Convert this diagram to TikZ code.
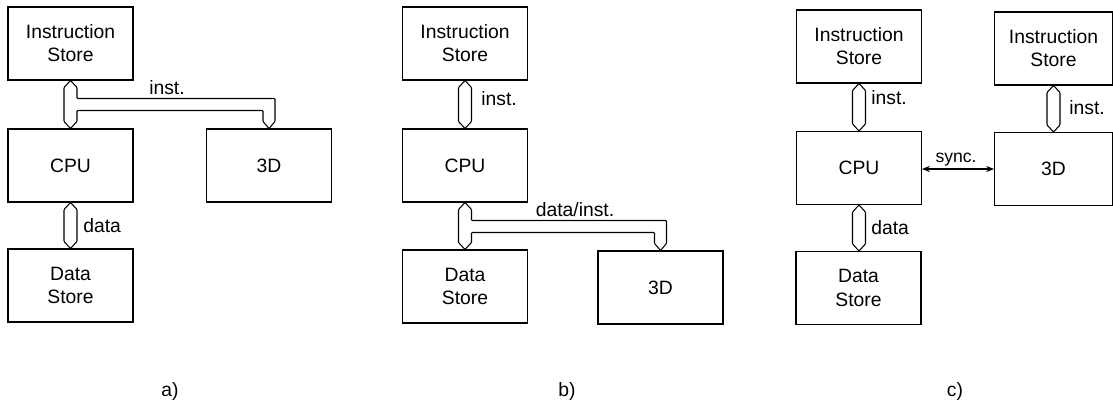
\documentclass[tikz,border=0pt]{standalone}
\usepackage{fontspec}
\setmainfont{Liberation Sans}
\usetikzlibrary{arrows.meta, calc}

\tikzset{
  unit/.style={draw, line width=0.6pt, minimum width=2.5cm, minimum height=1.46cm,
               align=center, font=\fontsize{11}{13.2}\selectfont},
  bus/.style={draw, fill=white, line width=0.6pt, rounded corners=0.5pt},
  lbl/.style={inner sep=0pt, font=\fontsize{11}{13.2}\selectfont},
  syncline/.style={line width=0.6pt, {Stealth[length=4.5pt,width=3.5pt]}-{Stealth[length=4.5pt,width=3.5pt]}},
}

\newcommand{\vbus}[2]{%
  \draw[bus] let \p1=(#1), \p2=(#2) in
    (\x1,\y1) -- (\x1+1.3mm,\y1-1.4mm) -- (\x1+1.3mm,\y2+1.4mm) -- (\x1,\y2)
    -- (\x1-1.3mm,\y2+1.4mm) -- (\x1-1.3mm,\y1-1.4mm) -- cycle;}

\newcommand{\tbus}[3]{%
  \draw[bus] let \p1=(#1), \p2=(#2), \p3=(#3) in
    (\x1,\y1) -- (\x1+1.3mm,\y1-1.4mm) -- (\x1+1.3mm,\y1-3.6mm)
    -- (\x3+1.2mm,\y1-3.6mm) -- (\x3+1.2mm,\y3+1.4mm) -- (\x3,\y3)
    -- (\x3-1.2mm,\y3+1.4mm) -- (\x3-1.2mm,\y1-6mm) -- (\x1+1.3mm,\y1-6mm)
    -- (\x1+1.3mm,\y2+1.4mm) -- (\x1,\y2) -- (\x1-1.3mm,\y2+1.4mm)
    -- (\x1-1.3mm,\y1-1.4mm) -- cycle;}

\begin{document}
\begin{tikzpicture}[x=0.02cm, y=-0.02cm]
  \useasboundingbox (0,0) rectangle (1113,404);

  \node[unit] (isA)  at (70.5, 43.5)  {Instruction\\Store};
  \node[unit] (cpuA) at (70.5, 165.5) {CPU};
  \node[unit] (dsA)  at (70.5, 285.5) {Data\\Store};
  \node[unit] (tdA)  at (269, 165.5)  {3D};

  \node[unit] (isB)  at (465, 43.5)   {Instruction\\Store};
  \node[unit] (cpuB) at (465, 165.5)  {CPU};
  \node[unit] (dsB)  at (465, 286.5)  {Data\\Store};
  \node[unit] (tdB)  at (660.5, 287.5) {3D};

  \node[unit] (isC)  at (859, 46.5)   {Instruction\\Store};
  \node[unit] (cpuC) at (859, 168)    {CPU};
  \node[unit] (dsC)  at (858.5, 288)  {Data\\Store};
  \node[unit, minimum width=2.36cm] (isD) at (1053.5, 48.5) {Instruction\\Store};
  \node[unit, minimum width=2.36cm] (tdC) at (1053.5, 169)  {3D};

  \tbus{isA.south}{cpuA.north}{tdA.north}
  \vbus{cpuA.south}{dsA.north}
  \vbus{isB.south}{cpuB.north}
  \tbus{cpuB.south}{dsB.north}{tdB.north}
  \vbus{isC.south}{cpuC.north}
  \vbus{cpuC.south}{dsC.north}
  \vbus{isD.south}{tdC.north}
  \draw[syncline] (cpuC.east |- tdC.west) -- (tdC.west);

  \node[lbl] (instA) at (167, 88) {inst.};
  \node[lbl, anchor=west] (dataA) at (83, 226) {data};
  \node[lbl, anchor=west] (instB) at (481, 99) {inst.};
  \node[lbl] (dataB) at (575, 210) {data/inst.};
  \node[lbl, anchor=west] (instC) at (871, 98) {inst.};
  \node[lbl, anchor=west] (dataC) at (871, 228) {data};
  \node[lbl, anchor=west] (instD) at (1069, 108) {inst.};
  \node[lbl, font=\fontsize{10}{12}\selectfont] (sync) at (956, 160) {sync.};

  \node[lbl] (capA) at (170, 392) {a)};
  \node[lbl] (capB) at (567, 392) {b)};
  \node[lbl] (capC) at (955, 392) {c)};
\end{tikzpicture}
\end{document}
